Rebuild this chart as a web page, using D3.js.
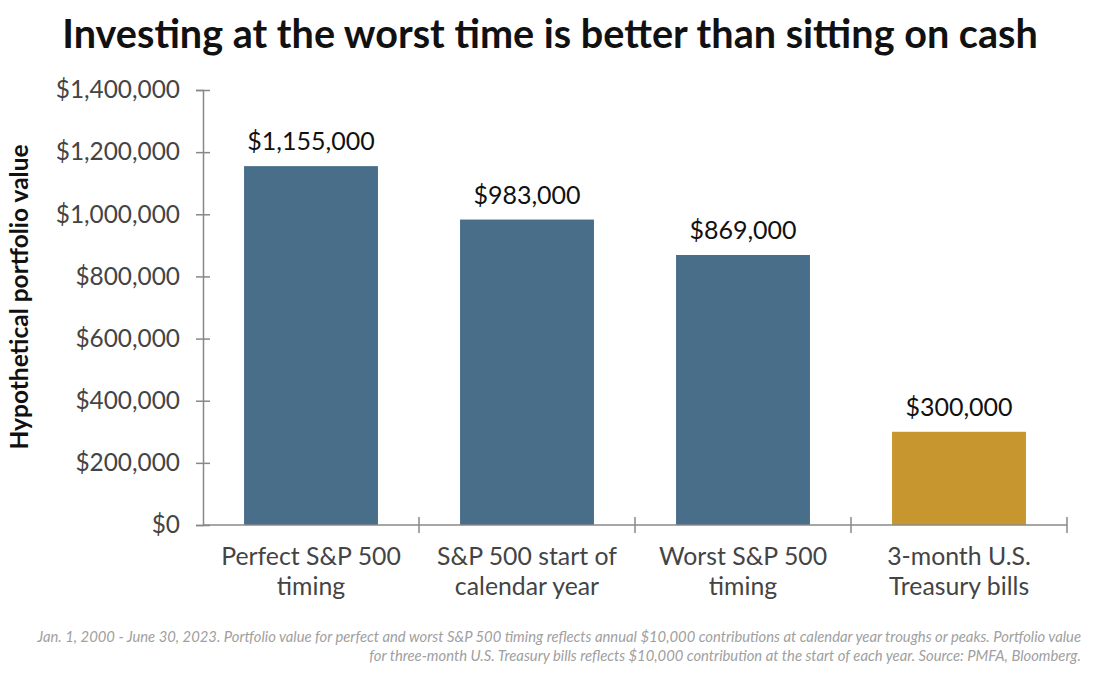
<!DOCTYPE html>
<html><head><meta charset="utf-8">
<script src="https://cdn.jsdelivr.net/npm/d3@7"></script>
<style>body{margin:0;background:#fff}svg{display:block}</style>
</head><body>
<svg id="c" width="1100" height="679"></svg>
<script>
const categories = [["Perfect S&P 500","timing"],["S&P 500 start of","calendar year"],["Worst S&P 500","timing"],["3-month U.S.","Treasury bills"]];
const values = [1155000, 983000, 869000, 300000];
const valueLabels = ["$1,155,000","$983,000","$869,000","$300,000"];
const barColors = ["#486e8a","#486e8a","#486e8a","#c8962e"];
const yTicks = [0,200000,400000,600000,800000,1000000,1200000,1400000];

const svg = d3.select("#c");
const font = "Lato, 'Open Sans', sans-serif";
const x0 = 203, x1 = 1067, yTop = 90, yBot = 525;
const x = d3.scaleBand().domain(d3.range(categories.length)).range([x0, x1]).paddingInner(0.38).paddingOuter(0.19);
const y = d3.scaleLinear().domain([0, 1400000]).range([yBot, yTop]);

svg.append("text").attr("x", 550).attr("y", 48).attr("text-anchor","middle")
  .attr("font-family", font).attr("font-weight","bold").attr("font-size", 39.6).attr("fill","#111")
  .text("Investing at the worst time is better than sitting on cash");

// y axis
const ya = svg.append("g").attr("transform",`translate(${x0},0)`)
  .call(d3.axisLeft(y).tickValues(yTicks).tickFormat(d => "$" + d3.format(",")(d)).tickSize(7).tickPadding(16));
ya.select(".domain").attr("stroke","#888").attr("stroke-width",1.5);
ya.selectAll(".tick line").attr("stroke","#888").attr("stroke-width",1.5).attr("x2",7).attr("x1",-7);
ya.selectAll(".tick text").attr("font-family",font).attr("font-size",24.4).attr("fill","#444");

// bars
svg.selectAll("rect.bar").data(values).join("rect").attr("class","bar")
  .attr("x",(d,i)=>x(i)).attr("width",x.bandwidth())
  .attr("y",d=>y(d)).attr("height",d=>yBot-y(d)).attr("fill",(d,i)=>barColors[i]);

svg.selectAll("text.val").data(values).join("text").attr("class","val")
  .attr("x",(d,i)=>x(i)+x.bandwidth()/2).attr("y",d=>y(d)-16).attr("text-anchor","middle")
  .attr("font-family",font).attr("font-size",25).attr("fill","#111").text((d,i)=>valueLabels[i]);

// x axis
const xa = svg.append("g");
xa.append("line").attr("x1",x0).attr("x2",x1).attr("y1",yBot).attr("y2",yBot).attr("stroke","#888").attr("stroke-width",1.5);
const step = x.step();
xa.selectAll("line.t").data(d3.range(categories.length)).join("line").attr("class","t")
  .attr("x1",i=>x0+step*(i+1)).attr("x2",i=>x0+step*(i+1)).attr("y1",yBot-8).attr("y2",yBot+8)
  .attr("stroke","#888").attr("stroke-width",1.5);

const cl = svg.selectAll("text.cat").data(categories).join("text").attr("class","cat")
  .attr("text-anchor","middle").attr("font-family",font).attr("font-size",24.8).attr("fill","#444");
cl.each(function(d,i){
  const t = d3.select(this);
  d.forEach((line,j)=>{
    t.append("tspan").attr("x",x(i)+x.bandwidth()/2).attr("y",565+j*30).text(line);
  });
});

// y label
svg.append("text").attr("transform","translate(28,297) rotate(-90)").attr("text-anchor","middle")
  .attr("font-family",font).attr("font-weight","bold").attr("font-size",24.5).attr("fill","#111")
  .text("Hypothetical portfolio value");

// footnote
const foot = ["Jan. 1, 2000 - June 30, 2023. Portfolio value for perfect and worst S&P 500 timing reflects annual $10,000 contributions at calendar year troughs or peaks. Portfolio value",
"for three-month U.S. Treasury bills reflects $10,000 contribution at the start of each year. Source: PMFA, Bloomberg."];
svg.selectAll("text.foot").data(foot).join("text").attr("class","foot")
  .attr("x",1081).attr("y",(d,i)=>642+i*19).attr("text-anchor","end")
  .attr("font-family",font).attr("font-style","italic").attr("font-size",14.8).attr("fill","#a0a0a0").text(d=>d);
</script>
</body></html>
